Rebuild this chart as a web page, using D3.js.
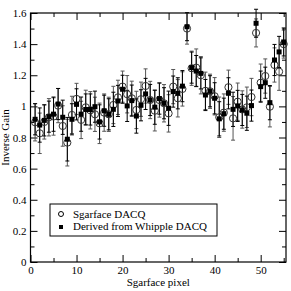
<!DOCTYPE html>
<html>
<head>
<meta charset="utf-8">
<script src="https://cdn.jsdelivr.net/npm/d3@7"></script>
<style>
  body { margin: 0; background: #fff; }
  text { font-family: "Liberation Serif", "Times New Roman", serif; }
</style>
</head>
<body>
<div id="chart"></div>
<script>
// values
const pixels = [1,2,3,4,5,6,7,8,9,10,11,12,13,14,15,16,17,18,19,20,21,22,23,24,25,26,27,28,
    29,30,31,32,33,34,35,36,37,38,39,40,41,42,43,44,45,46,47,48,49,50,51,52,53,54,55];

const sgarface = [0.898,0.827,0.90,0.93,0.935,1.005,0.874,0.767,0.945,1.048,0.913,0.994,0.975,0.949,
    0.891,0.96,0.949,1.009,1.058,1.127,1.078,1.052,0.977,1.046,1.131,1.041,0.972,1.041,1.02,0.955,
    1.127,1.052,1.112,1.50,1.245,1.249,1.2,1.1,1.097,1.065,0.93,0.96,1.123,0.923,1.03,0.98,0.994,
    1.06,1.472,1.152,1.195,0.998,1.266,1.223,1.40];
const sgarfaceErr = [0.12,0.13,0.11,0.12,0.12,0.11,0.13,0.15,0.12,0.10,0.12,0.11,0.12,0.11,0.13,
    0.12,0.11,0.12,0.11,0.10,0.12,0.11,0.12,0.11,0.11,0.12,0.13,0.11,0.12,0.12,0.11,0.12,0.11,0.10,
    0.11,0.12,0.12,0.12,0.11,0.12,0.13,0.12,0.11,0.14,0.12,0.12,0.13,0.12,0.09,0.12,0.11,0.13,0.11,
    0.12,0.09];

const whipple = [0.917,0.88,0.91,0.934,0.95,1.015,0.93,0.789,0.917,1.013,0.95,0.98,0.98,0.998,
    0.90,0.972,0.949,0.981,1.035,1.11,1.003,1.037,0.938,1.007,1.08,1.041,0.995,1.05,1.02,0.988,
    1.095,1.084,1.13,1.512,1.249,1.227,1.212,1.073,1.097,1.052,0.92,0.953,1.084,0.981,1.003,0.977,
    0.956,1.005,1.534,1.127,1.152,1.024,1.298,1.35,1.414];
const whippleErr = [0.10,0.11,0.10,0.10,0.11,0.10,0.11,0.14,0.10,0.10,0.11,0.10,0.10,0.10,0.11,
    0.10,0.10,0.11,0.10,0.09,0.10,0.10,0.11,0.10,0.10,0.10,0.11,0.10,0.10,0.11,0.10,0.10,0.10,0.09,
    0.10,0.10,0.10,0.10,0.10,0.10,0.11,0.10,0.10,0.11,0.10,0.10,0.11,0.10,0.09,0.10,0.10,0.11,0.10,
    0.10,0.09];

const xMajor = [0,10,20,30,40,50];
const xMinor = [5,15,25,35,45,55];
const yMajor = [0,0.2,0.4,0.6,0.8,1.0,1.2,1.4,1.6];
const yMinor = [0.1,0.3,0.5,0.7,0.9,1.1,1.3,1.5];
const seriesNames = ["Sgarface DACQ", "Derived from Whipple DACQ"];

const W = 291, H = 291;
const margin = {top: 13, right: 5, bottom: 29, left: 30.5};
const width = W - margin.left - margin.right,
      height = H - margin.top - margin.bottom;

const svg = d3.select("#chart").append("svg")
    .attr("width", W)
    .attr("height", H);

const g = svg.append("g")
    .attr("transform", "translate(" + margin.left + "," + margin.top + ")");

const x = d3.scaleLinear().domain([0, 55.5]).range([0, width]);
const y = d3.scaleLinear().domain([0, 1.6]).range([height, 0]);

const fmt = d => d3.format("~g")(d);

// axes, ticks pointing inward on all four sides
const styleAxis = sel => {
    sel.select(".domain").remove();
    sel.selectAll(".tick line").attr("stroke", "#000").attr("stroke-width", 1);
    sel.selectAll("text").style("font-family", "Liberation Serif").style("font-size", "11px").attr("fill", "#000");
};

g.append("g").attr("transform", "translate(0," + height + ")")
    .call(d3.axisBottom(x).tickValues(xMajor).tickSize(-7).tickPadding(4).tickFormat(fmt))
    .call(styleAxis);
g.append("g").attr("transform", "translate(0," + height + ")")
    .call(d3.axisBottom(x).tickValues(xMinor).tickSize(-4).tickFormat(""))
    .call(styleAxis);
g.append("g")
    .call(d3.axisTop(x).tickValues(xMajor).tickSize(-7).tickFormat(""))
    .call(styleAxis);
g.append("g")
    .call(d3.axisTop(x).tickValues(xMinor).tickSize(-4).tickFormat(""))
    .call(styleAxis);

g.append("g")
    .call(d3.axisLeft(y).tickValues(yMajor).tickSize(-7).tickPadding(4).tickFormat(fmt))
    .call(styleAxis);
g.append("g")
    .call(d3.axisLeft(y).tickValues(yMinor).tickSize(-4).tickFormat(""))
    .call(styleAxis);
g.append("g").attr("transform", "translate(" + width + ",0)")
    .call(d3.axisRight(y).tickValues(yMajor).tickSize(-7).tickFormat(""))
    .call(styleAxis);
g.append("g").attr("transform", "translate(" + width + ",0)")
    .call(d3.axisRight(y).tickValues(yMinor).tickSize(-4).tickFormat(""))
    .call(styleAxis);

g.append("rect")
    .attr("width", width)
    .attr("height", height)
    .attr("fill", "none")
    .attr("stroke", "#000")
    .attr("stroke-width", 1.2);

const sg = pixels.map((p, i) => ({p: p, v: sgarface[i], e: sgarfaceErr[i]}));
const wh = pixels.map((p, i) => ({p: p, v: whipple[i], e: whippleErr[i]}));

const drawErr = (data, cls, color) => {
    const eg = g.append("g").attr("class", cls)
        .attr("stroke", color).attr("stroke-width", 1);
    eg.selectAll(".bar").data(data).join("line")
        .attr("x1", d => x(d.p)).attr("x2", d => x(d.p))
        .attr("y1", d => y(d.v - d.e)).attr("y2", d => y(d.v + d.e));
    eg.selectAll(".cap-top").data(data).join("line")
        .attr("x1", d => x(d.p) - 2).attr("x2", d => x(d.p) + 2)
        .attr("y1", d => y(d.v + d.e)).attr("y2", d => y(d.v + d.e));
    eg.selectAll(".cap-bot").data(data).join("line")
        .attr("x1", d => x(d.p) - 2).attr("x2", d => x(d.p) + 2)
        .attr("y1", d => y(d.v - d.e)).attr("y2", d => y(d.v - d.e));
};

drawErr(sg, "err-sg", "#555");
drawErr(wh, "err-wh", "#000");

g.selectAll(".circ")
    .data(sg)
    .join("circle")
        .attr("class", "circ")
        .attr("cx", d => x(d.p))
        .attr("cy", d => y(d.v))
        .attr("r", 3.6)
        .attr("fill", "none")
        .attr("stroke", "#333")
        .attr("stroke-width", 1);

g.selectAll(".sq")
    .data(wh)
    .join("rect")
        .attr("class", "sq")
        .attr("x", d => x(d.p) - 2.5)
        .attr("y", d => y(d.v) - 2.5)
        .attr("width", 5)
        .attr("height", 5)
        .attr("fill", "#000");

// legend
const lg = svg.append("g").attr("transform", "translate(50,204)");
lg.append("rect")
    .attr("width", 167).attr("height", 32)
    .attr("fill", "#fff").attr("stroke", "#000").attr("stroke-width", 1);
lg.append("circle").attr("cx", 11).attr("cy", 10).attr("r", 2.5)
    .attr("fill", "none").attr("stroke", "#000");
lg.append("rect").attr("x", 9).attr("y", 21).attr("width", 4).attr("height", 4).attr("fill", "#000");
lg.selectAll(".lg-text")
    .data(seriesNames)
    .join("text")
        .attr("class", "lg-text")
        .attr("x", 23)
        .attr("y", (d, i) => 14 + i * 12)
        .style("font-size", "11px")
        .text(d => d);

// axis titles
svg.append("text")
    .attr("x", margin.left + width / 2)
    .attr("y", 286)
    .attr("text-anchor", "middle")
    .style("font-size", "11px")
    .text("Sgarface pixel");

svg.append("text")
    .attr("transform", "translate(9," + (margin.top + height / 2) + ") rotate(-90)")
    .attr("text-anchor", "middle")
    .style("font-size", "11px")
    .text("Inverse Gain");
</script>
</body>
</html>
